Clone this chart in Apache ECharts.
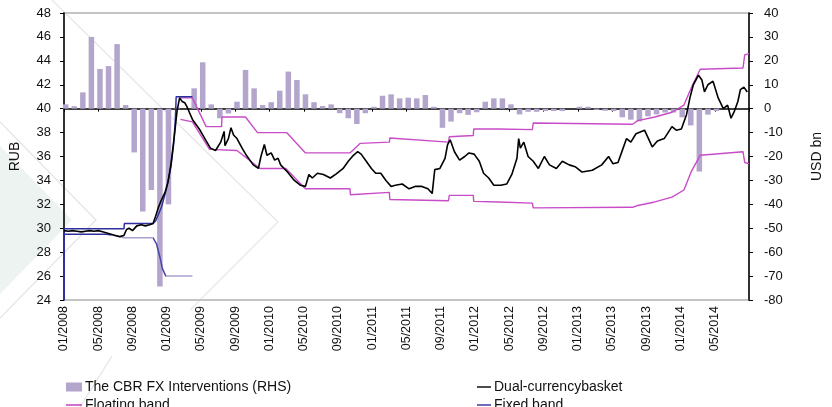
<!DOCTYPE html>
<html>
<head>
<meta charset="utf-8">
<script src="https://cdn.jsdelivr.net/npm/echarts@6/dist/echarts.min.js"></script>
<style>
  html, body { margin: 0; padding: 0; background: #fff; }
  #chart { width: 832px; height: 407px; }
</style>
</head>
<body>
<div id="chart"></div>
<script>
// x positions are months counted from 01/2008 (0 = Jan 2008)
const xTickLabels = ['01/2008', '05/2008', '09/2008', '01/2009', '05/2009', '09/2009', '01/2010', '05/2010',
  '09/2010', '01/2011', '05/2011', '09/2011', '01/2012', '05/2012', '09/2012', '01/2013', '05/2013',
  '09/2013', '01/2014', '05/2014'];

// CBR FX interventions, USD bn, one value per month from 01/2008
const interventionUsdBn = [
  1.8, 1.0, 6.8, 30.0, 16.6, 17.8, 27.0, 1.5, -18.3, -43.0, -34.0, -74.4,
  -40.0, 0.5, 0, 8.5, 19.4, 1.8, -4.0, -2.0, 2.9, 16.2, 8.5, 1.5,
  2.7, 7.5, 15.5, 12.0, 6.0, 2.7, 1.1, 1.8, -1.9, -4.0, -6.4, -1.9,
  0.8, 5.4, 6.0, 4.3, 4.6, 4.3, 5.7, 0.8, -8.0, -5.4, -1.9, -2.6,
  -1.5, 2.9, 4.3, 4.3, 1.8, -2.4, -1.3, -1.3, -1.0, -1.0, -1.0, 0,
  0.8, 0.8, -0.5, -0.9, -1.0, -3.6, -4.6, -5.3, -3.2, -2.4, -1.6, -1.6,
  -3.6, -7.0, -26.3, -2.5, -1.0, 0, 0, 0
];

// dual-currency basket, RUB
const basketMonth = [0, 0.5, 1, 1.5, 2, 2.5, 3, 3.5, 4, 4.5, 5, 5.5, 6, 6.5, 7, 7.3, 7.6, 8, 8.5, 9, 9.5, 10,
  10.4, 10.7, 11.0, 11.4, 11.8, 12.16, 12.5, 12.9, 13.2, 13.5, 13.8, 14.1, 14.4, 14.7, 15.0, 15.4, 15.8,
  16.2, 16.6, 17.1, 17.7, 18.3, 18.7, 18.8, 19.2, 19.5, 19.8, 20.2, 20.8, 21.3, 22.1, 22.7, 23.0, 23.4,
  23.7, 24.2, 24.6, 25.0, 25.3, 26.1, 26.9, 27.6, 28.2, 28.6, 29.0, 29.6, 30.3, 31.1, 31.8, 32.6, 33.2,
  33.8, 34.3, 34.7, 35.3, 35.9, 36.4, 37.0, 37.6, 38.2, 38.7, 39.5, 40.3, 41.0, 41.8, 42.5, 43.0, 43.3,
  43.9, 44.5, 44.8, 45.1, 45.6, 46.2, 46.8, 47.3, 47.9, 48.5, 49.0, 49.6, 50.2, 51.0, 51.7, 52.3, 52.9,
  53.1, 53.3, 53.7, 54.2, 54.8, 55.4, 56.1, 56.7, 57.5, 58.2, 59.0, 59.7, 60.5, 61.7, 62.8, 63.6, 64.1,
  64.7, 65.3, 65.7, 66.2, 66.8, 67.8, 68.7, 69.3, 70.1, 71.0, 71.5, 72.1, 72.7, 73.1, 73.5, 74.1, 74.5,
  74.8, 75.2, 75.8, 76.4, 77.0, 77.5, 77.9, 78.3, 78.7, 79.0, 79.4, 79.8];
const basketRub = [29.8, 29.75, 29.8, 29.75, 29.7, 29.75, 29.8, 29.75, 29.8, 29.7, 29.6, 29.5, 29.4, 29.3, 29.4, 29.9, 30.0, 29.8, 30.2, 30.3, 30.2, 30.3,
  30.4, 31.0, 31.7, 32.4, 33.0, 33.9, 35.4, 37.8, 39.8, 40.9, 40.6, 40.5, 40.1, 39.6, 39.1, 38.7, 38.3,
  37.8, 37.3, 36.7, 36.5, 37.2, 38.1, 36.9, 37.5, 38.4, 37.8, 37.5, 36.7, 36.1, 35.3, 35.0, 36.0, 37.0,
  36.1, 36.3, 35.7, 35.85, 35.3, 34.7, 34.0, 33.6, 33.5, 34.5, 34.2, 34.6, 34.5, 34.2, 34.55, 35.0, 35.6,
  36.1, 36.4, 36.2, 35.6, 35.0, 34.6, 34.6, 34.0, 33.5, 33.6, 33.7, 33.3, 33.5, 33.5, 33.3, 32.9, 34.9,
  35.0, 35.85, 37.0, 37.4, 36.4, 35.7, 36.0, 36.3, 36.2, 35.6, 34.6, 34.2, 33.6, 33.6, 33.7, 34.5, 35.85,
  37.5, 36.7, 37.2, 36.0, 35.6, 35.0, 36.0, 35.3, 35.0, 35.6, 35.3, 35.15, 34.7, 34.85, 35.3, 36.0, 35.4,
  35.5, 36.7, 37.5, 37.2, 37.9, 38.2, 36.8, 37.3, 37.5, 38.5, 38.2, 38.3, 39.5, 40.9, 42.0, 42.8, 42.4,
  41.4, 42.0, 42.3, 40.9, 40.0, 40.3, 39.2, 39.8, 40.6, 41.6, 41.8, 41.4];

// floating band, RUB
const floatUpperMonth = [13.5, 15.0, 16.6, 18.4, 18.45, 21.2, 22.6, 26.0, 28.2, 33.4, 34.6, 38.0, 38.05, 44.9, 45.0,
  47.8, 47.85, 50.8, 54.7, 54.8, 66.4, 67.0, 69.0, 71.0, 72.4, 73.3, 74.3, 79.3, 79.5, 80];
const floatUpperRub = [40.9, 40.9, 38.5, 38.5, 39.3, 39.3, 38.0, 38.0, 36.3, 36.3, 37.1, 37.2, 37.55, 37.2, 37.65,
  37.75, 38.3, 38.3, 38.25, 38.8, 38.7, 39.0, 39.3, 39.7, 40.3, 41.8, 43.3, 43.4, 44.5, 44.6];
const floatLowerMonth = [13.6, 15.0, 17.0, 20.2, 22.9, 25.9, 28.2, 33.4, 33.45, 38.0, 38.05, 44.9, 45.0, 47.8, 47.85,
  50.8, 54.7, 54.8, 66.4, 67.0, 69.0, 71.0, 72.4, 73.3, 74.3, 79.3, 79.5, 80];
const floatLowerRub = [39.1, 38.9, 36.6, 36.5, 35.0, 35.0, 33.3, 33.3, 32.8, 33.0, 32.4, 32.3, 32.75, 32.75, 32.25,
  32.2, 32.1, 31.7, 31.75, 31.9, 32.2, 32.6, 33.2, 34.8, 36.1, 36.4, 35.5, 35.4];

// fixed band, RUB
const fixedUpperMonth = [0, 0, 7.0, 7.05, 10.4, 10.7, 11.4, 12.0, 12.5, 12.8, 13.0, 13.1, 15.0];
const fixedUpperRub = [24, 29.95, 29.95, 30.4, 30.4, 30.6, 31.8, 33.4, 35.2, 37.0, 39.0, 41.0, 41.0];
const fixedLowerMonth = [0, 0, 5.0, 6.5, 7.0, 10.4, 10.8, 11.2, 11.5, 11.9, 15.0];
const fixedLowerRub = [24, 29.5, 29.5, 29.3, 29.2, 29.2, 28.7, 27.6, 26.6, 26.0, 26.0];

const FONT = "'Liberation Sans', Arial, sans-serif";
const pairs = (xs, ys) => xs.map((x, i) => [x, ys[i]]);
const lineIcon = 'path://M0,0 L24,0 L24,2.4 L0,2.4 Z';

// one legend box per entry so the two rows sit where the original has them
const legendBox = (left, top, name, icon, itemWidth) => ({
  left: left, top: top, orient: 'horizontal', itemWidth: itemWidth, itemHeight: 9, itemGap: 4,
  textStyle: { fontSize: 14, color: '#111', fontFamily: FONT, padding: [0, 0, 0, -2] },
  data: [{ name: name, icon: icon }]
});

const chart = echarts.init(document.getElementById('chart'));

const option = {
  animation: false,
  backgroundColor: '#fff',
  textStyle: { fontFamily: FONT },
  graphic: [
    { type: 'polygon', z: -5, silent: true, shape: { points: [[0, 146], [72, 220], [0, 294]] }, style: { fill: '#edf3f1' } },
    { type: 'polyline', z: -4, silent: true, shape: { points: [[0, 122], [96, 220], [0, 318]] }, style: { stroke: '#e3e3e3', lineWidth: 1.2, fill: null } },
    { type: 'polyline', z: -4, silent: true, shape: { points: [[52, 0], [278, 222], [190, 310]] }, style: { stroke: '#e6e6e6', lineWidth: 1.2, fill: null } },
    { type: 'line', z: -4, silent: true, shape: { x1: 112, y1: 356, x2: 80, y2: 407 }, style: { stroke: '#e3e3e3', lineWidth: 1.2 } }
  ],
  grid: {
    left: 64, right: 73, top: 13, bottom: 107,
    show: true, borderColor: '#c4c4c4', borderWidth: 2, backgroundColor: 'transparent'
  },
  legend: [
    legendBox(61, 375, 'The CBR FX Interventions (RHS)', 'rect', 16),
    legendBox(61, 393, 'Floating band', lineIcon, 16),
    legendBox(472, 375, 'Dual-currencybasket', lineIcon, 14),
    legendBox(472, 393, 'Fixed band', lineIcon, 14)
  ],
  xAxis: [
    {
      type: 'value', min: 0, max: 80, interval: 4, position: 'bottom',
      axisLine: { show: false, onZero: false },
      axisTick: { show: false },
      splitLine: { show: false },
      axisLabel: {
        rotate: 90, margin: 6, fontSize: 12.5, color: '#111', fontFamily: FONT,
        formatter: v => xTickLabels[Math.round(v / 4)] || ''
      }
    },
    {
      // zero line of the right axis, ticks pointing down
      type: 'value', min: 0, max: 80, interval: 4, position: 'bottom',
      axisLine: { show: true, onZero: true, onZeroAxisIndex: 1, lineStyle: { color: '#000', width: 1.5 } },
      axisTick: { show: true, length: 3, lineStyle: { color: '#000', width: 1 } },
      axisLabel: { show: false },
      splitLine: { show: false }
    }
  ],
  yAxis: [
    {
      type: 'value', min: 24, max: 48, interval: 2, position: 'left',
      name: 'RUB', nameLocation: 'middle', nameGap: 42, nameRotate: 90,
      nameTextStyle: { fontSize: 14, color: '#111', fontFamily: FONT },
      axisLine: { show: true, onZero: false, lineStyle: { color: '#000', width: 1.5 } },
      axisTick: { show: true, length: 4, lineStyle: { color: '#000' } },
      splitLine: { show: false },
      axisLabel: { fontSize: 13, color: '#111', margin: 13, fontFamily: FONT }
    },
    {
      type: 'value', min: -80, max: 40, interval: 10, position: 'right',
      name: 'USD bn', nameLocation: 'middle', nameGap: 61, nameRotate: 90,
      nameTextStyle: { fontSize: 14, color: '#111', fontFamily: FONT },
      axisLine: { show: true, onZero: false, lineStyle: { color: '#000', width: 1.5 } },
      axisTick: { show: true, length: 4, lineStyle: { color: '#000' } },
      splitLine: { show: false },
      axisLabel: { fontSize: 13, color: '#111', margin: 15, fontFamily: FONT }
    }
  ],
  visualMap: [{
    show: false, type: 'piecewise', seriesIndex: 4, dimension: 0,
    pieces: [
      { gte: -1, lt: 5.5, color: '#2f2f9e' },
      { gte: 5.5, lt: 10.4, color: '#a9a0cf' },
      { gte: 10.4, lt: 11.9, color: '#4848aa' },
      { gte: 11.9, lte: 20, color: '#a9a0cf' }
    ]
  }],
  series: [
    {
      name: 'The CBR FX Interventions (RHS)', type: 'bar', yAxisIndex: 1, barWidth: 5.5,
      color: '#b3a5cc',
      data: interventionUsdBn.map((v, i) => [i + 0.2, v])
    },
    {
      name: 'Floating band', type: 'line', yAxisIndex: 0, showSymbol: false, color: '#c84cc8',
      lineStyle: { width: 1.4, color: '#c84cc8' }, data: pairs(floatUpperMonth, floatUpperRub)
    },
    {
      name: 'Floating band', type: 'line', yAxisIndex: 0, showSymbol: false, color: '#c84cc8',
      lineStyle: { width: 1.4, color: '#c84cc8' }, data: pairs(floatLowerMonth, floatLowerRub)
    },
    {
      name: 'Fixed band', type: 'line', yAxisIndex: 0, showSymbol: false, color: '#2f2f9e',
      lineStyle: { width: 1.5, color: '#2f2f9e' }, data: pairs(fixedUpperMonth, fixedUpperRub)
    },
    {
      name: 'Fixed band', type: 'line', yAxisIndex: 0, showSymbol: false, color: '#2f2f9e',
      lineStyle: { width: 1.5 }, data: pairs(fixedLowerMonth, fixedLowerRub)
    },
    {
      name: 'Dual-currencybasket', type: 'line', yAxisIndex: 0, showSymbol: false, color: '#000',
      lineStyle: { width: 1.6, color: '#000' }, z: 5, data: pairs(basketMonth, basketRub)
    }
  ]
};

chart.setOption(option);
</script>
</body>
</html>
